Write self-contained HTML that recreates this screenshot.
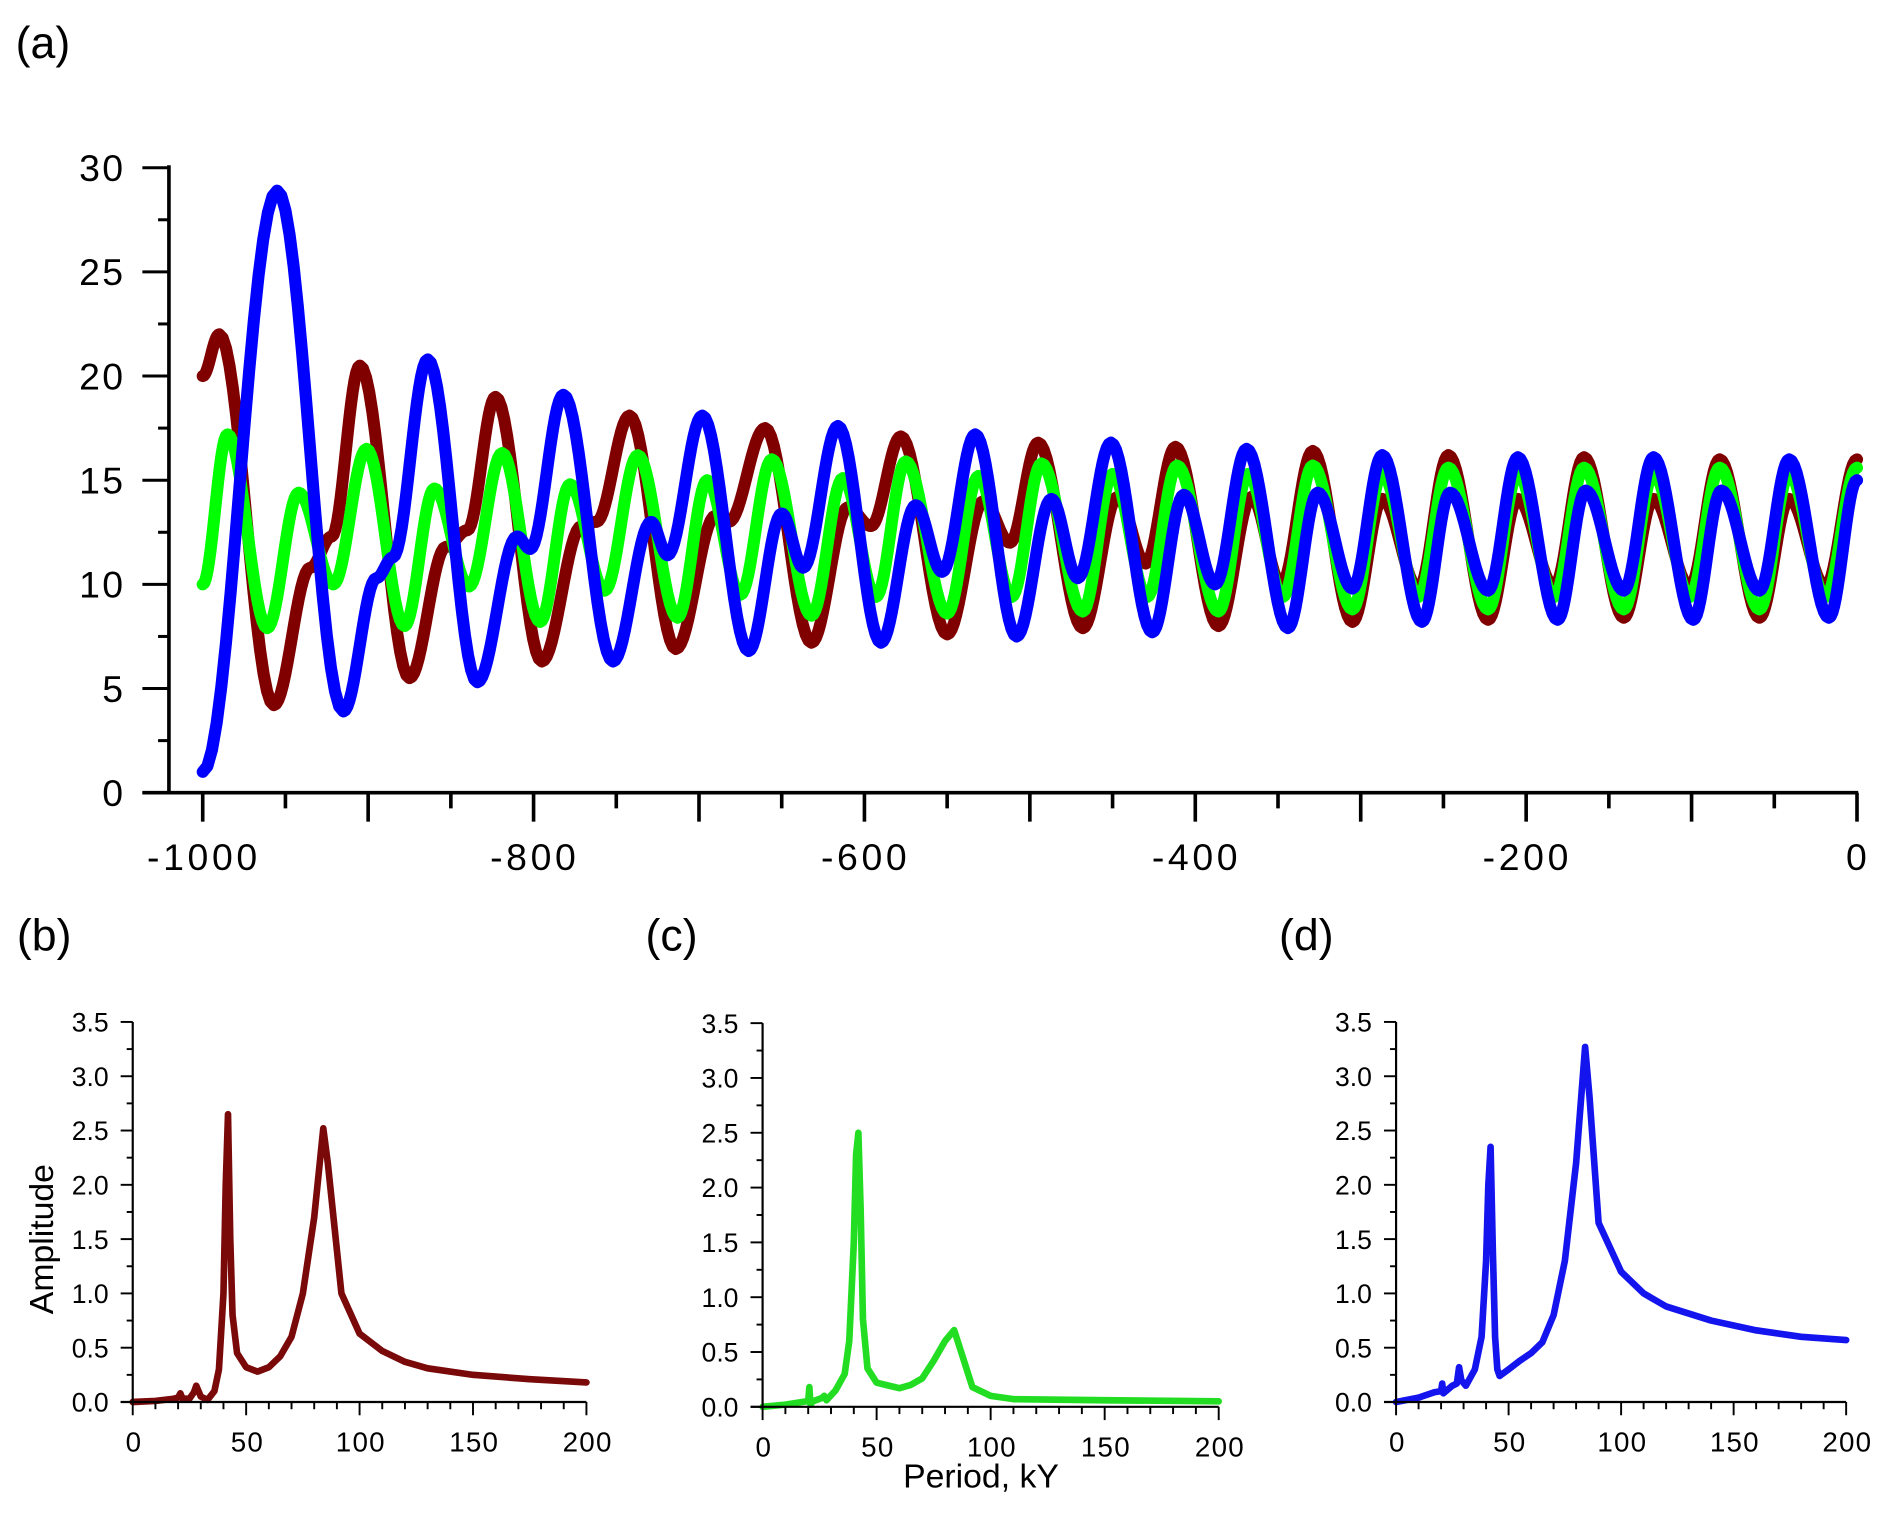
<!DOCTYPE html>
<html><head><meta charset="utf-8">
<style>
html,body{margin:0;padding:0;background:#fff;}
svg{display:block;}
text{font-family:"Liberation Sans",Arial,sans-serif;fill:#000;}
</style></head>
<body>
<svg id="fig" width="1892" height="1513" viewBox="0 0 1568 1254" preserveAspectRatio="none" xmlns="http://www.w3.org/2000/svg">
<g id="ga"></g>
<g id="gb"></g>
<g id="gc"></g>
<g id="gd"></g>
</svg>
<script>
// ---------- Panel (a) data: extrema of the time series (kY, value) ----------
const brownT = [-1000,-990,-957,-935,-922,-905,-875,-853,-840,-823,-795,-771,-762,-742,-714,-690,-682,-660,-632,-610,-596,-578,-550,-528,-512,-495,-468,-447,-430,-412,-386,-366,-348,-329,-305,-287,-265,-247,-223,-205,-183,-165,-141,-123,-101,-83,-59,-41,-19,0];
const brownV = [20.0,22.0,4.2,10.8,12.3,20.5,5.5,11.8,12.6,19.0,6.3,12.8,13.0,18.1,6.9,13.3,13.0,17.5,7.2,13.7,12.8,17.1,7.6,14.0,12.0,16.8,7.9,14.2,11.0,16.6,8.0,14.2,10.0,16.4,8.2,14.1,9.8,16.2,8.3,14.1,9.9,16.1,8.4,14.1,9.9,16.0,8.4,14.1,9.9,16.0];
const greenT = [-1000,-985,-961,-942,-921,-901,-878,-860,-839,-819,-796,-778,-757,-737,-713,-695,-675,-656,-632,-613,-593,-575,-550,-531,-511,-493,-468,-450,-429,-411,-386,-368,-347,-329,-305,-287,-265,-247,-223,-205,-183,-165,-141,-123,-101,-83,-59,-41,-19,0];
const greenV = [10.0,17.2,7.9,14.4,10.0,16.5,8.0,14.6,9.9,16.3,8.2,14.8,9.7,16.2,8.4,15.0,9.5,16.0,8.5,15.1,9.4,15.9,8.6,15.2,9.4,15.8,8.7,15.3,9.4,15.7,8.7,15.3,9.4,15.7,8.8,15.3,9.4,15.6,8.8,15.3,9.4,15.6,8.8,15.3,9.4,15.6,8.8,15.3,9.4,15.6];
const blueT = [-1000,-955,-915,-895,-885,-864,-834,-810,-802,-782,-752,-729,-719,-698,-670,-650,-637,-616,-590,-569,-553,-533,-508,-487,-471,-451,-426,-407,-388,-369,-344,-326,-305,-287,-263,-246,-223,-205,-181,-164,-141,-123,-99,-82,-59,-41,-17,0];
const blueV = [1.0,28.9,3.9,10.3,11.3,20.8,5.3,12.3,11.7,19.1,6.3,13.0,11.4,18.1,6.8,13.4,10.8,17.6,7.2,13.8,10.6,17.2,7.5,14.1,10.3,16.8,7.7,14.3,10.0,16.5,7.9,14.4,9.8,16.2,8.2,14.4,9.7,16.1,8.3,14.5,9.7,16.1,8.3,14.5,9.7,16.0,8.4,15.0];
const aYTicks = [0,5,10,15,20,25,30];
const aXTicks = [-1000,-800,-600,-400,-200,0];

// ---------- Spectra data (period kY, amplitude) ----------
const specBP = [0,10,18,20,21,22,25,27,28,30,33,36,38,40,41,42,43,44,46,50,55,60,65,70,75,80,84,86,92,100,110,120,130,150,175,200];
const specBA = [0,0.01,0.03,0.04,0.08,0.03,0.03,0.09,0.15,0.05,0.02,0.1,0.3,1.0,2.0,2.65,1.5,0.8,0.45,0.32,0.28,0.32,0.42,0.6,1.0,1.7,2.52,2.2,1.0,0.63,0.47,0.37,0.31,0.25,0.21,0.18];
const specCP = [0,10,19,20,20.5,21,22,26,27,28,32,36,38,40,41,42,43,44,46,50,60,65,70,75,80,84,92,100,110,150,200];
const specCA = [0,0.02,0.05,0.05,0.18,0.02,0.05,0.08,0.1,0.06,0.15,0.3,0.6,1.5,2.3,2.5,1.8,0.8,0.35,0.22,0.17,0.2,0.26,0.42,0.6,0.7,0.18,0.1,0.07,0.06,0.05];
const specDP = [0,10,17,20,20.5,21,25,27,28,29,31,35,38,40,41,42,43,44,45,46,50,55,60,65,70,75,80,84,86,90,100,110,120,140,160,180,200];
const specDA = [0,0.04,0.09,0.1,0.17,0.08,0.15,0.17,0.32,0.2,0.15,0.3,0.6,1.3,2.0,2.35,1.4,0.6,0.3,0.24,0.3,0.38,0.45,0.55,0.8,1.3,2.2,3.27,2.8,1.65,1.2,1.0,0.88,0.75,0.66,0.6,0.57];
const specYTicks = ["0.0","0.5","1.0","1.5","2.0","2.5","3.0","3.5"];
const specXTicks = [0,50,100,150,200];

const NS = "http://www.w3.org/2000/svg";
function mk(parent, tag, attrs, txt){
  const e = document.createElementNS(NS, tag);
  for (const k in attrs) e.setAttribute(k, attrs[k]);
  if (txt !== undefined) e.textContent = txt;
  parent.appendChild(e);
  return e;
}

// ---------- Panel (a) ----------
const ga = document.getElementById('ga');
const ax = t => 168 + (t + 1000) * 1.371;
const ay = v => 657 - v * 17.267;
let lab = mk(ga,'text',{x:13,y:48,'font-size':37},'(a)');



function curvePath(T, V){
  let d = 'M' + ax(T[0]).toFixed(2) + ',' + ay(V[0]).toFixed(2);
  for (let i = 0; i < T.length - 1; i++){
    const n = 16;
    for (let k = 1; k <= n; k++){
      const s = k / n;
      const w = (1 - Math.cos(Math.PI * s)) / 2;
      const t = T[i] + (T[i+1] - T[i]) * s;
      const v = V[i] + (V[i+1] - V[i]) * w;
      d += 'L' + ax(t).toFixed(2) + ',' + ay(v).toFixed(2);
    }
  }
  return d;
}
let p;
p = mk(ga,'path',{d:curvePath(brownT,brownV),fill:'none',stroke:'#800000','stroke-width':10,'stroke-linejoin':'round','stroke-linecap':'round'});


p = mk(ga,'path',{d:curvePath(greenT,greenV),fill:'none',stroke:'#00ff00','stroke-width':10,'stroke-linejoin':'round','stroke-linecap':'round'});


p = mk(ga,'path',{d:curvePath(blueT,blueV),fill:'none',stroke:'#0000ff','stroke-width':10,'stroke-linejoin':'round','stroke-linecap':'round'});



// axes a
let ln = mk(ga,'line',{x1:140,y1:ay(30)-2,x2:140,y2:657,stroke:'#000','stroke-width':3});


ln = mk(ga,'line',{x1:118,y1:657,x2:1540,y2:657,stroke:'#000','stroke-width':3});


for (let v = 0; v <= 30; v += 2.5){
  const major = (v % 5 === 0);
  mk(ga,'line',{x1:major?118:131,y1:ay(v),x2:140,y2:ay(v),stroke:'#000','stroke-width':2.5});
}
aYTicks.forEach(v=>{
  const t = mk(ga,'text',{x:104,y:ay(v)+11,'font-size':31,'text-anchor':'end','letter-spacing':'2'},String(v));
  
  
});
for (let t = -1000; t <= 0; t += 50){
  const major = (t % 100 === 0);
  mk(ga,'line',{x1:ax(t),y1:657,x2:ax(t),y2:major?681:670,stroke:'#000','stroke-width':3});
}
aXTicks.forEach(t=>{
  const e = mk(ga,'text',{x:ax(t)+1,y:721,'font-size':31,'text-anchor':'middle','letter-spacing':'3'},String(t));
  
  
});

// ---------- Spectra panels ----------
function spectrum(g, name, label, labX, x0, x1, y0, y35, P, A, color){
  const sx = p => x0 + p / 200 * (x1 - x0);
  const sy = a => y0 - a / 3.5 * (y0 - y35);
  const l = mk(g,'text',{x:labX,y:788,'font-size':37},label);
  
  
  let d = '';
  P.forEach((pp,i)=>{ d += (i ? 'L' : 'M') + sx(pp).toFixed(2) + ',' + sy(A[i]).toFixed(2); });
  const path = mk(g,'path',{d:d,fill:'none',stroke:color,'stroke-width':5.5,'stroke-linejoin':'round','stroke-linecap':'round'});
  
  
  const ya = mk(g,'line',{x1:x0,y1:y35,x2:x0,y2:y0,stroke:'#000','stroke-width':1.8});
  
  
  const xa = mk(g,'line',{x1:x0-10,y1:y0,x2:x1,y2:y0,stroke:'#000','stroke-width':1.8});
  
  
  for (let a = 0; a <= 3.5001; a += 0.25){
    const major = Math.abs(a*2 - Math.round(a*2)) < 1e-6;
    mk(g,'line',{x1:major?x0-10:x0-5,y1:sy(a),x2:x0,y2:sy(a),stroke:'#000','stroke-width':1.6});
  }
  specYTicks.forEach(s=>{
    const e = mk(g,'text',{x:x0-20,y:sy(parseFloat(s))+8,'font-size':22,'text-anchor':'end'},s);
    
    
  });
  for (let q = 0; q <= 200; q += 10){
    const major = (q % 50 === 0);
    mk(g,'line',{x1:sx(q),y1:y0,x2:sx(q),y2:major?y0+11:y0+6,stroke:'#000','stroke-width':1.6});
  }
  specXTicks.forEach(q=>{
    const e = mk(g,'text',{x:sx(q)+1,y:y0+41,'font-size':23,'text-anchor':'middle','letter-spacing':'1'},String(q));
    
    
  });
}
spectrum(document.getElementById('gb'),'panel-b','(b)',14,110,486,1162,847,specBP,specBA,'#7a0a0a');
spectrum(document.getElementById('gc'),'panel-c','(c)',535,632,1010,1166,848,specCP,specCA,'#22dd22');
spectrum(document.getElementById('gd'),'panel-d','(d)',1060,1157,1530,1162,847,specDP,specDA,'#1414ee');

const fig = document.getElementById('fig');
let yt = mk(fig,'text',{x:0,y:0,'font-size':28,'text-anchor':'middle',transform:'translate(44,1027) rotate(-90)'},'Amplitude');


let xt = mk(fig,'text',{x:813,y:1233,'font-size':28,'text-anchor':'middle'},'Period, kY');


</script>
</body></html>
